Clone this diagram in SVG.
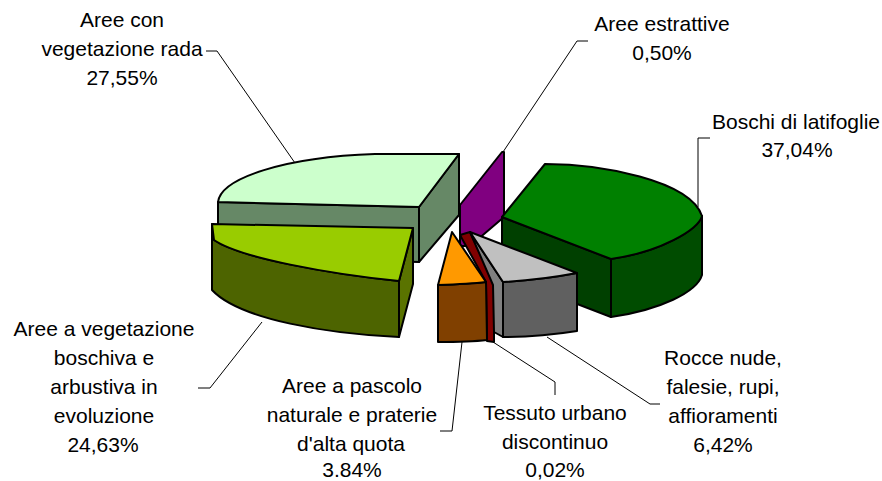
<svg xmlns="http://www.w3.org/2000/svg" width="882" height="481" viewBox="0 0 882 481">
<style>
.s{stroke:#000;stroke-width:2;stroke-linejoin:round}
.l{fill:none;stroke:#000;stroke-width:1}
text{font-family:"Liberation Sans",Arial,sans-serif;font-size:21px;fill:#000;text-anchor:middle}
</style>
<rect width="882" height="481" fill="#fff"/>
<g id="connectors">
<polyline class="l" points="206,51 217,51 295,163"/>
<polyline class="l" points="588,41 577,41 503,152"/>
<polyline class="l" points="710,138 698,138 698,207"/>
<polyline class="l" points="198,388 210,388 262,322"/>
<polyline class="l" points="462,342 452,431 440,431"/>
<polyline class="l" points="493,342 555,382 555,395"/>
<polyline class="l" points="547,337 650,404 660,404"/>
</g>
<g id="aree-vegetazione-rada">
<path class="s" fill="#668866" d="M218,202 L419,207 L419,262 L218,257 Z"/>
<path class="s" fill="#668866" d="M419,207 L459,154 L459,215 L419,262 Z"/>
<path class="s" fill="#CCFFCC" d="M218,202 C221,178 285,157 375,154 L459,154 L419,207 Z"/>
<text x="122" y="27">Aree con</text>
<text x="122" y="56">vegetazione rada</text>
<text x="122" y="85">27,55%</text>
</g>
<g id="aree-estrattive">
<path class="s" fill="#800080" d="M460,205 L502,152 L504,152 L504,217 L470,246 L460,246 Z"/>
<text x="662" y="31">Aree estrattive</text>
<text x="662" y="60">0,50%</text>
</g>
<g id="boschi-latifoglie">
<path class="s" fill="#004000" d="M502,217 L611,259 L611,317 L502,275 Z"/>
<path class="s" fill="#004C00" d="M611,259 C660,252 698,230 702,216 L702,275 C697,292 660,310 611,317 Z"/>
<path class="s" fill="#008000" d="M502,217 L545,164 C600,164 690,180 702,216 C698,230 660,252 611,259 Z"/>
<text x="796" y="129">Boschi di latifoglie</text>
<text x="797" y="157">37,04%</text>
</g>
<g id="aree-vegetazione-boschiva">
<path class="s" fill="#4D6400" d="M212,224 L214,240 C240,258 330,274 399,281 L399,337 C330,334 240,320 212,290 Z"/>
<path class="s" fill="#5A7300" d="M413,228 L399,281 L399,337 L413,284 Z"/>
<path class="s" fill="#99CC00" d="M212,224 L413,228 L399,281 C330,274 240,258 214,240 Z"/>
<text x="104" y="336">Aree a vegetazione</text>
<text x="104" y="365">boschiva e</text>
<text x="104" y="394">arbustiva in</text>
<text x="104" y="423">evoluzione</text>
<text x="103" y="452">24,63%</text>
</g>
<g id="tessuto-urbano">
<path class="s" fill="#800000" d="M460,235 L470,232 L494,283 L494,342 L487,341 L486,282 Z"/>
<text x="555" y="420">Tessuto urbano</text>
<text x="555" y="449">discontinuo</text>
<text x="555" y="477">0,02%</text>
</g>
<g id="aree-pascolo">
<path class="s" fill="#804000" d="M438,285 Q470,284 486,282 L487,340 Q470,342 438,342 Z"/>
<path class="s" fill="#FF9900" d="M452,232 L486,282 Q470,284 438,285 Z"/>
<text x="352" y="393">Aree a pascolo</text>
<text x="352" y="422">naturale e praterie</text>
<text x="351" y="451">d'alta quota</text>
<text x="352" y="477">3.84%</text>
</g>
<g id="rocce-nude">
<path class="s" fill="#808080" d="M470,232 L503,282 L503,337 L494,332 L493,285 Z"/>
<path class="s" fill="#606060" d="M503,282 Q540,280 577,273 L577,331 Q540,337 503,337 Z"/>
<path class="s" fill="#C0C0C0" d="M470,232 L577,273 Q540,280 503,282 Z"/>
<text x="723" y="365">Rocce nude,</text>
<text x="723" y="394">falesie, rupi,</text>
<text x="723" y="423">affioramenti</text>
<text x="723" y="452">6,42%</text>
</g>
</svg>
